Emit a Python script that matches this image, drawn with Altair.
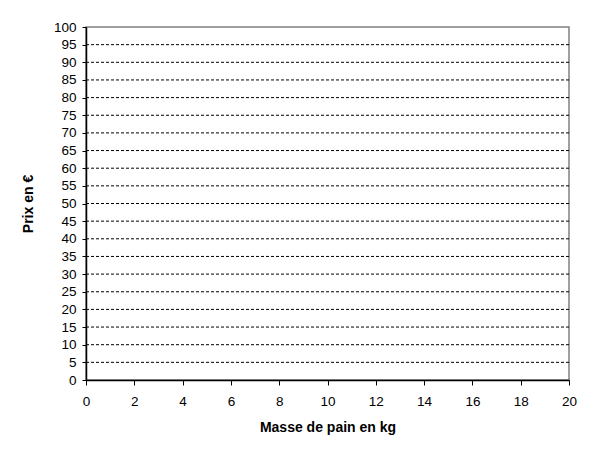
import altair as alt
import pandas as pd

x_ticks = [0, 2, 4, 6, 8, 10, 12, 14, 16, 18, 20]
y_ticks = [0, 5, 10, 15, 20, 25, 30, 35, 40, 45, 50, 55, 60, 65, 70, 75, 80, 85, 90, 95, 100]
grid_levels = [5, 10, 15, 20, 25, 30, 35, 40, 45, 50, 55, 60, 65, 70, 75, 80, 85, 90, 95]

x_title = "Masse de pain en kg"
y_title = "Prix en €"

FONT = "Liberation Sans"

grid_df = pd.DataFrame({"y": grid_levels})
base_df = pd.DataFrame({"x": [x_ticks[0], x_ticks[-1]], "y": [y_ticks[0], y_ticks[-1]]})

xscale = alt.Scale(domain=[x_ticks[0], x_ticks[-1]], nice=False, zero=False)
yscale = alt.Scale(domain=[y_ticks[0], y_ticks[-1]], nice=False, zero=False)

x_axis = alt.Axis(
    values=x_ticks,
    title=x_title,
    grid=False,
    labelOverlap=False,
    labelFlush=False,
    domainColor="black",
    domainWidth=1.5,
    tickColor="black",
    tickSize=5,
    labelPadding=9,
    labelFont=FONT,
    labelFontSize=13.5,
    labelColor="black",
    titleFont=FONT,
    titleFontSize=14,
    titleFontWeight="bold",
    titleColor="black",
    titlePadding=13,
)

y_axis = alt.Axis(
    values=y_ticks,
    title=y_title,
    grid=False,
    labelOverlap=False,
    labelFlush=False,
    domainColor="black",
    domainWidth=1.5,
    tickColor="black",
    tickSize=4,
    labelPadding=6,
    labelFont=FONT,
    labelFontSize=13.5,
    labelColor="black",
    titleFont=FONT,
    titleFontSize=14,
    titleFontWeight="bold",
    titleColor="black",
    titlePadding=18,
)

grid = alt.Chart(grid_df).mark_rule(color="black", strokeDash=[3, 2], strokeWidth=1).encode(
    y=alt.Y("y:Q", scale=yscale, axis=y_axis),
    x=alt.value(0),
    x2=alt.value(483),
)

axes = alt.Chart(base_df).mark_point(opacity=0).encode(
    x=alt.X("x:Q", scale=xscale, axis=x_axis),
    y=alt.Y("y:Q", scale=yscale, axis=y_axis),
)

chart = alt.layer(grid, axes).properties(
    width=483,
    height=353,
    autosize=alt.AutoSizeParams(type="none"),
    padding={"left": 78, "top": 19, "right": 14, "bottom": 62},
    background="white",
).configure_view(stroke="#808080", strokeWidth=1.5)

chart.save("out.html", embed_options={"renderer": "svg", "actions": False})
